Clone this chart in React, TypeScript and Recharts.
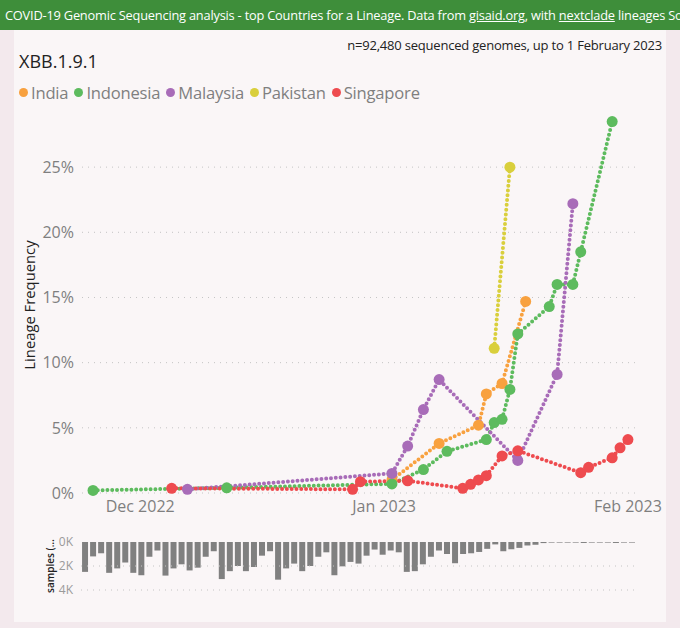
import React from 'react'
import { LineChart, Line, BarChart, Bar, XAxis, YAxis, ReferenceLine } from 'recharts'

const countries = ['India', 'Indonesia', 'Malaysia', 'Pakistan', 'Singapore']
const colors = ['#f8a13f', '#5dbb5e', '#a86cb8', '#d9cf3c', '#ee4b4f']

// lineage frequency (%) by sample date
const indiaDates = ['2023-01-02', '2023-01-08', '2023-01-13', '2023-01-14', '2023-01-16', '2023-01-19']
const indiaFreq = [1.0, 3.8, 5.2, 7.6, 8.4, 14.7]

const indonesiaDates = ['2022-11-25', '2022-12-12', '2023-01-02', '2023-01-06', '2023-01-09', '2023-01-14', '2023-01-15', '2023-01-16', '2023-01-17', '2023-01-18', '2023-01-22', '2023-01-23', '2023-01-25', '2023-01-26', '2023-01-30']
const indonesiaFreq = [0.2, 0.4, 0.7, 1.8, 3.2, 4.1, 5.4, 5.65, 7.95, 12.2, 14.3, 16.0, 16.0, 18.5, 28.5]

const malaysiaDates = ['2022-12-07', '2023-01-02', '2023-01-04', '2023-01-06', '2023-01-08', '2023-01-18', '2023-01-23', '2023-01-25']
const malaysiaFreq = [0.28, 1.5, 3.6, 6.4, 8.7, 2.5, 9.1, 22.2]

const pakistanDates = ['2023-01-15', '2023-01-17']
const pakistanFreq = [11.1, 25.0]

const singaporeDates = ['2022-12-05', '2022-12-28', '2022-12-29', '2023-01-04', '2023-01-11', '2023-01-12', '2023-01-13', '2023-01-14', '2023-01-16', '2023-01-18', '2023-01-26', '2023-01-27', '2023-01-30', '2023-01-31', '2023-02-01']
const singaporeFreq = [0.36, 0.28, 0.87, 0.94, 0.36, 0.67, 1.0, 1.33, 2.84, 3.24, 1.56, 1.97, 2.7, 3.47, 4.1]

const freqTicks = [0, 5, 10, 15, 20, 25]
const monthTicks = ['2022-12-01', '2023-01-01', '2023-02-01']
const monthLabels = ['Dec 2022', 'Jan 2023', 'Feb 2023']

// daily sample counts, 24 Nov 2022 .. 1 Feb 2023
const samples = [
  2490, 1200, 940, 2570, 2200, 1710, 2570, 2770, 1230, 710,
  2800, 2200, 1860, 2370, 2140, 1230, 770, 3090, 2430, 2000,
  2430, 2090, 1140, 770, 3140, 2200, 1800, 2430, 2000, 1230,
  860, 2770, 2030, 1660, 1800, 1140, 630, 1060, 710, 860,
  2490, 2430, 1860, 1230, 710, 1000, 1770, 1000, 940, 830,
  570, 200, 770, 600, 490, 290, 230, 90, 50, 50,
  50, 50, 80, 50, 50, 50, 80, 50, 50,
]
const sampleTicks = [0, 2000, 4000]

const origin = Date.parse('2022-12-01')
const dayOf = (s: string) => (Date.parse(s) - origin) / 86400000

const series = [
  { dates: indiaDates, freq: indiaFreq },
  { dates: indonesiaDates, freq: indonesiaFreq },
  { dates: malaysiaDates, freq: malaysiaFreq },
  { dates: pakistanDates, freq: pakistanFreq },
  { dates: singaporeDates, freq: singaporeFreq },
].map((s, i) => ({
  name: countries[i],
  color: colors[i],
  data: s.dates.map((d, j) => ({ d: dayOf(d), v: s.freq[j] })),
}))

const barData = samples.map((n, i) => ({ i, n }))

const font = '"Open Sans", "Noto Sans", sans-serif'
const grey = '#7f7f7f'
const gridColor = '#c4c4c4'

export default function App() {
  return (
    <div style={{ position: 'absolute', left: 0, top: 0, width: 680, height: 628, background: '#f3e9ed', fontFamily: font, overflow: 'hidden' }}>
      <div style={{ position: 'absolute', left: 0, top: 0, width: 675, height: 30, background: '#3e8e3a', color: '#fff', fontSize: 12.8, lineHeight: '30px', paddingLeft: 5, whiteSpace: 'nowrap', overflow: 'hidden', letterSpacing: -0.2 }}>
        COVID-19 Genomic Sequencing analysis - top Countries for a Lineage. Data from <u>gisaid.org</u>, with <u>nextclade</u> lineages So
      </div>
      <div style={{ position: 'absolute', left: 14, top: 30, width: 652, height: 592, background: '#faf6f7' }} />
      <div style={{ position: 'absolute', right: 18, top: 36, fontSize: 13, color: '#222', letterSpacing: -0.2 }}>
        n=92,480 sequenced genomes, up to 1 February 2023
      </div>
      <div style={{ position: 'absolute', left: 19, top: 49, fontSize: 18, color: '#222' }}>XBB.1.9.1</div>
      <div style={{ position: 'absolute', left: 19, top: 81, display: 'flex', fontSize: 16.6, color: grey, letterSpacing: -0.2 }}>
        {series.map((s) => (
          <div key={s.name} style={{ display: 'flex', alignItems: 'center', marginRight: 6 }}>
            <span style={{ width: 9, height: 9, borderRadius: 5, background: s.color, marginRight: 3 }} />
            {s.name}
          </div>
        ))}
      </div>
      <div style={{ position: 'absolute', left: 29, top: 305, transform: 'translate(-50%, -50%) rotate(-90deg)', fontSize: 14.8, fontWeight: 500, color: '#222', whiteSpace: 'nowrap' }}>
        Lineage Frequency
      </div>
      <div style={{ position: 'absolute', left: 50, top: 566, transform: 'translate(-50%, -50%) rotate(-90deg)', fontSize: 10, fontWeight: 600, color: '#222', whiteSpace: 'nowrap' }}>
        samples (…
      </div>

      <div style={{ position: 'absolute', left: 0, top: 0 }}>
        <LineChart width={680} height={530} margin={{ top: 115, right: 45, left: 10, bottom: 7 }}>
          <XAxis
            dataKey="d"
            type="number"
            domain={[-7.4, 62.9]}
            allowDataOverflow
            ticks={monthTicks.map(dayOf)}
            tickFormatter={(v) => monthLabels[monthTicks.map(dayOf).indexOf(v)]}
            axisLine={false}
            tickLine={false}
            height={30}
            tick={{ fill: grey, fontSize: 16, fontFamily: font }}
          />
          <YAxis
            type="number"
            domain={[0, 29]}
            ticks={freqTicks}
            tickFormatter={(v) => v + '%'}
            axisLine={false}
            tickLine={false}
            width={72}
            tick={{ fill: grey, fontSize: 16, fontFamily: font }}
          />
          {freqTicks.map((t) => (
            <ReferenceLine key={t} y={t} stroke={gridColor} strokeDasharray="1 5" />
          ))}
          {series.map((s) => (
            <Line
              key={s.name}
              data={s.data}
              dataKey="v"
              name={s.name}
              type="linear"
              stroke={s.color}
              strokeWidth={4}
              strokeDasharray="0 4.8"
              strokeLinecap="round"
              dot={{ r: 5.5, fill: s.color, stroke: 'none' }}
              isAnimationActive={false}
            />
          ))}
        </LineChart>
      </div>

      <div style={{ position: 'absolute', left: 0, top: 0 }}>
        <BarChart width={680} height={600} data={barData} margin={{ top: 542, right: 44, left: 10, bottom: 10 }} barCategoryGap="13%">
          <XAxis dataKey="i" hide />
          <YAxis
            reversed
            domain={[0, 4000]}
            ticks={sampleTicks}
            tickFormatter={(v) => v / 1000 + 'K'}
            axisLine={false}
            tickLine={false}
            width={71}
            tick={{ fill: '#9a9a9a', fontSize: 12, fontFamily: font }}
          />
          {sampleTicks.slice(1).map((t) => (
            <ReferenceLine key={t} y={t} stroke={gridColor} strokeDasharray="1 5" />
          ))}
          <Bar dataKey="n" fill="#808080" isAnimationActive={false} />
        </BarChart>
      </div>
    </div>
  )
}
